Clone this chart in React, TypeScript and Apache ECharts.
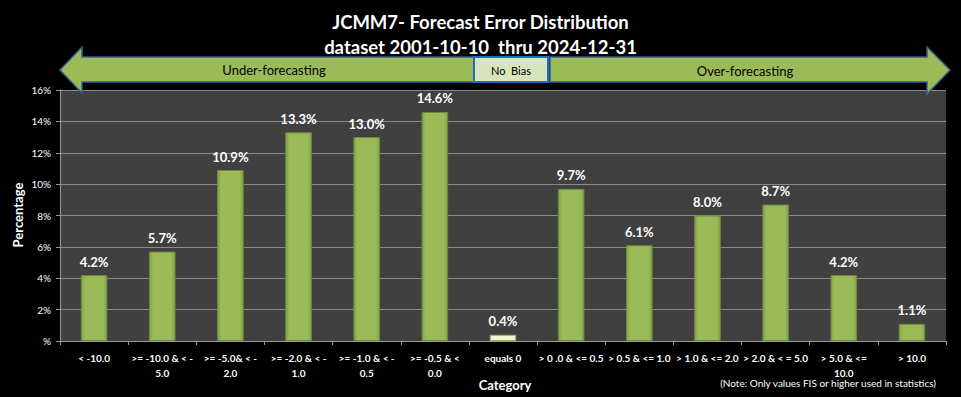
import React, { useEffect, useRef } from "react";
import * as echarts from "echarts";

const categories = [
  "< -10.0",
  ">= -10.0 & < -\n5.0",
  ">= -5.0& < -\n2.0",
  ">= -2.0 & < -\n1.0",
  ">= -1.0 & < -\n0.5",
  ">= -0.5 & <\n0.0",
  "equals 0",
  "> 0 .0 & <= 0.5",
  "> 0.5 & <= 1.0",
  "> 1.0 & <= 2.0",
  "> 2.0 & < = 5.0",
  "> 5.0 & <=\n10.0",
  "> 10.0",
];
const values = [4.2, 5.7, 10.9, 13.3, 13.0, 14.6, 0.4, 9.7, 6.1, 8.0, 8.7, 4.2, 1.1];
const yTicks = [0, 2, 4, 6, 8, 10, 12, 14, 16];
const titleText = "JCMM7- Forecast Error Distribution\ndataset 2001-10-10  thru 2024-12-31";
const noteText = "(Note: Only values FIS or higher used in statistics)";
const xAxisName = "Category";
const yAxisName = "Percentage";

const FONT = "Lato, 'Open Sans', sans-serif";

export default function App() {
  const ref = useRef<HTMLDivElement>(null);
  useEffect(() => {
    if (!ref.current) return;
    const chart = echarts.init(ref.current, null, { renderer: "svg" });
    const green = "#9BBB59";
    const data = values.map((v, i) =>
      categories[i] === "equals 0"
        ? { value: v, itemStyle: { color: "#EEF3E2", borderColor: "#8FAF55" } }
        : v
    );
    chart.setOption({
      animation: false,
      backgroundColor: "#000000",
      textStyle: { fontFamily: FONT },
      title: {
        text: titleText,
        left: "center",
        top: 4,
        textStyle: { color: "#ffffff", fontSize: 18.5, fontWeight: "bold", lineHeight: 25, fontFamily: FONT },
      },
      grid: {
        left: 60,
        right: 15,
        top: 90,
        bottom: 56,
        show: true,
        backgroundColor: "#404040",
        borderWidth: 0,
        outerBoundsMode: "none",
        containLabel: false,
      },
      xAxis: {
        type: "category",
        data: categories,
        axisLine: { lineStyle: { color: "#9a9a9a", width: 1 } },
        axisTick: { show: true, length: 4, lineStyle: { color: "#9a9a9a" } },
        axisLabel: {
          interval: 0,
          color: "#ffffff",
          fontSize: 10,
          fontWeight: "bold",
          lineHeight: 15,
          margin: 9,
          fontFamily: FONT,
        },
      },
      yAxis: {
        type: "value",
        min: yTicks[0],
        max: yTicks[yTicks.length - 1],
        interval: 2,
        axisLine: { show: true, lineStyle: { color: "#9a9a9a" } },
        axisTick: { show: true, length: 4, lineStyle: { color: "#9a9a9a" } },
        splitLine: { lineStyle: { color: "#8a8a8a", width: 1 } },
        axisLabel: {
          color: "#ffffff",
          fontSize: 10,
          margin: 9,
          fontFamily: FONT,
          formatter: (v: number) => (v === 0 ? "%" : v + "%"),
        },
      },
      series: [
        {
          type: "bar",
          data,
          barWidth: "39%",
          itemStyle: {
            color: new echarts.graphic.LinearGradient(0, 0, 1, 0, [
              { offset: 0, color: "#84A34A" },
              { offset: 0.15, color: green },
              { offset: 0.85, color: green },
              { offset: 1, color: "#84A34A" },
            ]),
            borderColor: "#6E8A3A",
            borderWidth: 1,
          },
          label: {
            show: true,
            position: "top",
            distance: 7,
            color: "#ffffff",
            fontSize: 13,
            fontWeight: "bold",
            fontFamily: FONT,
            formatter: (p: any) => Number(p.value).toFixed(1) + "%",
          },
        },
      ],
      graphic: [
        {
          type: "polygon",
          z: 100,
          shape: {
            points: [
              [60, 70], [82, 47], [82, 57], [474, 57], [474, 82], [82, 82], [82, 93],
            ],
          },
          style: { fill: green, stroke: "#3B5E8C", lineWidth: 1.5 },
        },
        {
          type: "polygon",
          z: 100,
          shape: {
            points: [
              [550, 57], [927, 57], [927, 47], [950, 70], [927, 94], [927, 82], [550, 82],
            ],
          },
          style: { fill: green, stroke: "#3B5E8C", lineWidth: 1.5 },
        },
        {
          type: "rect",
          z: 101,
          shape: { x: 474, y: 57, width: 74, height: 25 },
          style: { fill: "#D7E4BD", stroke: "#1F6FBF", lineWidth: 2 },
        },
        {
          type: "text",
          z: 102,
          x: 511,
          y: 70,
          style: { text: "No  Bias", fill: "#000000", fontSize: 11, fontFamily: FONT, align: "center", verticalAlign: "middle" },
        },
        {
          type: "text",
          z: 102,
          x: 274,
          y: 70,
          style: { text: "Under-forecasting", fill: "#000000", fontSize: 13, fontFamily: FONT, align: "center", verticalAlign: "middle" },
        },
        {
          type: "text",
          z: 102,
          x: 745,
          y: 71,
          style: { text: "Over-forecasting", fill: "#000000", fontSize: 13, fontFamily: FONT, align: "center", verticalAlign: "middle" },
        },
        {
          type: "text",
          z: 102,
          x: 936,
          y: 383,
          style: { text: noteText, fill: "#ffffff", fontSize: 10, fontFamily: FONT, align: "right", verticalAlign: "middle" },
        },
        {
          type: "text",
          z: 102,
          x: 505,
          y: 385,
          style: { text: xAxisName, fill: "#ffffff", fontSize: 13, fontWeight: "bold", fontFamily: FONT, align: "center", verticalAlign: "middle" },
        },
        {
          type: "text",
          z: 102,
          x: 18,
          y: 215,
          rotation: Math.PI / 2,
          style: { text: yAxisName, fill: "#ffffff", fontSize: 13, fontWeight: "bold", fontFamily: FONT, align: "center", verticalAlign: "middle" },
        },
      ],
    });
    return () => chart.dispose();
  }, []);
  return <div ref={ref} style={{ position: "fixed", left: 0, top: 0, width: 961, height: 397 }} />;
}
